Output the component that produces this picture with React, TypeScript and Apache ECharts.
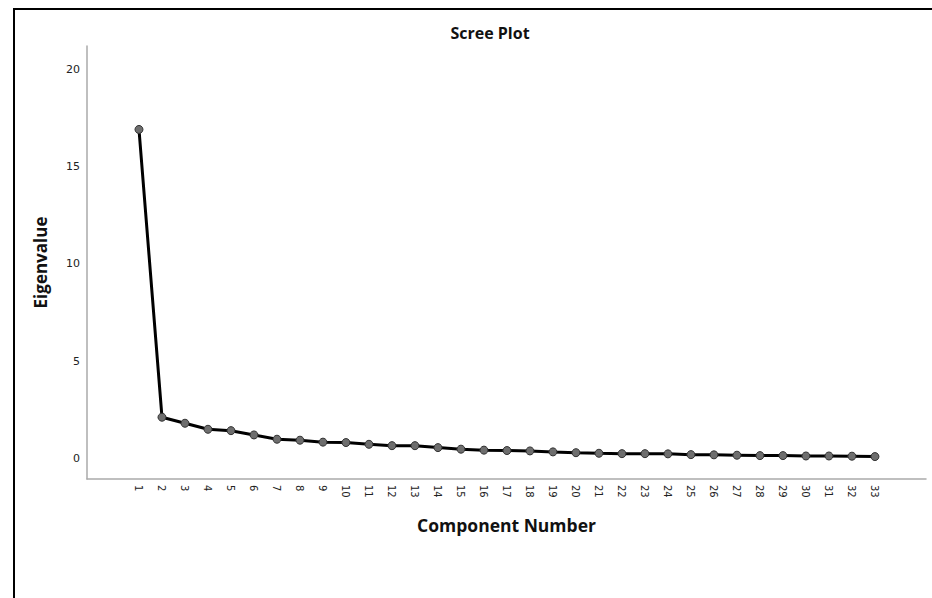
import React, { useEffect, useRef } from "react";
import * as echarts from "echarts";

const components: number[] = Array.from({ length: 33 }, (_, i) => i + 1);
const eigenvalues: number[] = [
  16.9, 2.14, 1.83, 1.52, 1.45, 1.23, 1.01, 0.96, 0.86, 0.84, 0.75, 0.68, 0.68,
  0.58, 0.5, 0.45, 0.43, 0.41, 0.36, 0.32, 0.29, 0.27, 0.27, 0.26, 0.22, 0.21,
  0.19, 0.17, 0.17, 0.15, 0.15, 0.14, 0.12,
];
const yTicks: number[] = [0, 5, 10, 15, 20];
const titleText = "Scree Plot";
const xName = "Component Number";
const yName = "Eigenvalue";

export default function App() {
  const ref = useRef<HTMLDivElement>(null);
  useEffect(() => {
    if (!ref.current) return;
    const chart = echarts.init(ref.current, undefined, { renderer: "svg" });
    const labelFont = "'DejaVu Sans', sans-serif";
    const boldFont = "'Open Sans', 'Noto Sans', sans-serif";
    chart.setOption({
      animation: false,
      backgroundColor: "#ffffff",
      title: {
        text: titleText,
        left: 485,
        top: 20,
        textAlign: "center",
        textStyle: { fontFamily: boldFont, fontWeight: "bold", fontSize: 16, color: "#111" },
      },
      graphic: [
        {
          type: "rect",
          silent: true,
          shape: { x: 14, y: 9, width: 1200, height: 1200 },
          style: { fill: "none", stroke: "#000", lineWidth: 2 },
        },
      ],
      grid: { left: 87, right: 6, top: 46, bottom: 119, containLabel: false },
      xAxis: {
        type: "value",
        min: -1.26,
        max: 35.22,
        name: xName,
        nameLocation: "middle",
        nameGap: 37,
        nameTextStyle: { fontFamily: boldFont, fontWeight: "bold", fontSize: 17.5, color: "#111" },
        splitLine: { show: false },
        axisTick: { show: false },
        axisLine: { show: true, onZero: false, lineStyle: { color: "#aaa", width: 1.5 } },
        axisLabel: {
          customValues: components,
          rotate: -90,
          margin: 6,
          fontFamily: labelFont,
          fontSize: 10,
          color: "#222",
        },
      },
      yAxis: {
        type: "value",
        min: -1.03,
        max: 21.18,
        name: yName,
        nameLocation: "middle",
        nameRotate: 90,
        nameGap: 38,
        nameTextStyle: { fontFamily: boldFont, fontWeight: "bold", fontSize: 17, color: "#111" },
        splitLine: { show: false },
        axisTick: { show: false },
        axisLine: { show: true, onZero: false, lineStyle: { color: "#aaa", width: 1.5 } },
        axisLabel: {
          customValues: yTicks,
          margin: 7,
          fontFamily: labelFont,
          fontSize: 11,
          color: "#222",
        },
      },
      series: [
        {
          type: "line",
          data: components.map((c, i) => [c, eigenvalues[i]]),
          symbol: "circle",
          symbolSize: 8,
          showAllSymbol: true,
          lineStyle: { color: "#000", width: 3 },
          itemStyle: { color: "#6e6e6e", borderColor: "#333", borderWidth: 1 },
        },
      ],
    });
    return () => chart.dispose();
  }, []);
  return (
    <div
      ref={ref}
      style={{ position: "fixed", left: 0, top: 0, width: 932, height: 598, overflow: "hidden" }}
    />
  );
}
